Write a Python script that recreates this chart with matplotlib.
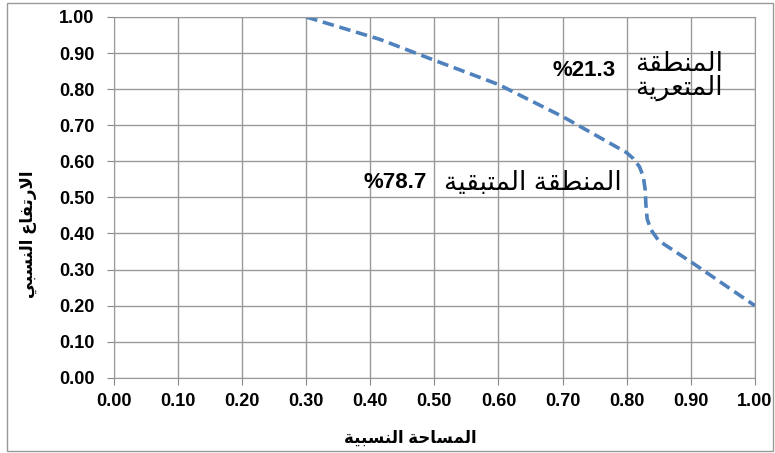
import numpy as np
import matplotlib.pyplot as plt
from matplotlib.patches import Rectangle

# ------------------------------------------------------------------
# Dati (curva ipsometrica)
# ------------------------------------------------------------------
area_rel = [0.30, 0.415, 0.50, 0.60, 0.70, 0.80, 0.810, 0.820, 0.826, 0.829, 0.830, 0.832, 0.838, 0.850, 0.903, 1.00]
height_rel = [1.00, 0.938, 0.88, 0.813, 0.724, 0.624, 0.608, 0.585, 0.557, 0.52, 0.48, 0.44, 0.41, 0.38, 0.318, 0.20]

ticks = np.arange(0, 1.01, 0.1)
tick_labels = ["%.2f" % t for t in ticks]

pct_eroded = "%21.3"
pct_remain = "%78.7"
txt_eroded_1 = "المنطقة"
txt_eroded_2 = "المتعرية"
txt_remain = "المنطقة المتبقية"
xlabel = "المساحة النسبية"
ylabel = "الارتفاع النسبي"

# ------------------------------------------------------------------
# Piccolo shaper arabo (matplotlib non unisce le lettere)
# forme: isolata, finale, iniziale, mediale
# ------------------------------------------------------------------
FORMS = {
    "ا": ("\uFE8D", "\uFE8E", None, None),
    "ب": ("\uFE8F", "\uFE90", "\uFE91", "\uFE92"),
    "ة": ("\uFE93", "\uFE94", None, None),
    "ت": ("\uFE95", "\uFE96", "\uFE97", "\uFE98"),
    "ح": ("\uFEA1", "\uFEA2", "\uFEA3", "\uFEA4"),
    "ر": ("\uFEAD", "\uFEAE", None, None),
    "س": ("\uFEB1", "\uFEB2", "\uFEB3", "\uFEB4"),
    "ط": ("\uFEC1", "\uFEC2", "\uFEC3", "\uFEC4"),
    "ع": ("\uFEC9", "\uFECA", "\uFECB", "\uFECC"),
    "ف": ("\uFED1", "\uFED2", "\uFED3", "\uFED4"),
    "ق": ("\uFED5", "\uFED6", "\uFED7", "\uFED8"),
    "ل": ("\uFEDD", "\uFEDE", "\uFEDF", "\uFEE0"),
    "م": ("\uFEE1", "\uFEE2", "\uFEE3", "\uFEE4"),
    "ن": ("\uFEE5", "\uFEE6", "\uFEE7", "\uFEE8"),
    "ي": ("\uFEF1", "\uFEF2", "\uFEF3", "\uFEF4"),
}


def dual(c):
    return c in FORMS and FORMS[c][2] is not None


def ar(s):
    # ligatura lam-alef
    tokens = []
    i = 0
    while i < len(s):
        if s[i] == "ل" and i + 1 < len(s) and s[i + 1] == "ا":
            tokens.append("LA")
            i += 2
        else:
            tokens.append(s[i])
            i += 1
    out = []
    for k, c in enumerate(tokens):
        prev = tokens[k - 1] if k > 0 else None
        nxt = tokens[k + 1] if k + 1 < len(tokens) else None
        join_prev = prev is not None and prev != "LA" and dual(prev)
        if c == "LA":
            out.append("\uFEFC" if join_prev else "\uFEFB")
            continue
        if c not in FORMS:
            out.append(c)
            continue
        join_next = dual(c) and nxt is not None and (nxt in FORMS or nxt == "LA")
        iso, fin, ini, med = FORMS[c]
        if join_prev and join_next:
            out.append(med)
        elif join_prev:
            out.append(fin)
        elif join_next:
            out.append(ini)
        else:
            out.append(iso)
    return "".join(reversed(out))


# ------------------------------------------------------------------
# Grafico
# ------------------------------------------------------------------
plt.rcParams["font.family"] = ["Liberation Sans", "DejaVu Sans"]

fig = plt.figure(figsize=(7.75, 4.53), dpi=100)
ax = fig.add_axes([0.147, 0.166, 0.827, 0.7965])

ax.plot(area_rel, height_rel, color="#4F81BD", lw=2.6, ls=(0, (3.2, 1.6)))

ax.set_xlim(0, 1)
ax.set_ylim(0, 1)
ax.set_xticks(ticks)
ax.set_yticks(ticks)
ax.set_xticklabels(tick_labels, fontsize=13, fontweight="bold")
ax.set_yticklabels(tick_labels, fontsize=13, fontweight="bold")
ax.tick_params(axis="x", length=5, pad=6, color="#888888")
ax.tick_params(axis="y", length=5, pad=9, color="#888888")
ax.grid(True, color="#999999", lw=1)
for sp in ax.spines.values():
    sp.set_color("#999999")

ax.text(0.782, 0.852, pct_eroded, fontsize=16, fontweight="bold", ha="right", va="center")
ax.text(0.95, 0.835, ar(txt_eroded_1) + "\n" + ar(txt_eroded_2), fontsize=19,
        ha="right", va="center", linespacing=0.95)
ax.text(0.488, 0.54, pct_remain, fontsize=16, fontweight="bold", ha="right", va="center")
ax.text(0.793, 0.54, ar(txt_remain), fontsize=19, ha="right", va="center")

fig.text(0.529, 0.033, ar(xlabel), fontsize=12, fontweight="bold", ha="center", va="center")
fig.text(0.036, 0.483, ar(ylabel), fontsize=12, fontweight="bold", ha="center", va="center",
         rotation=90)

fig.patches.append(Rectangle((0.009, 0.004), 0.988, 0.99, transform=fig.transFigure,
                             fill=False, edgecolor="#999999", lw=1))

fig.savefig("out.png", dpi=100)
